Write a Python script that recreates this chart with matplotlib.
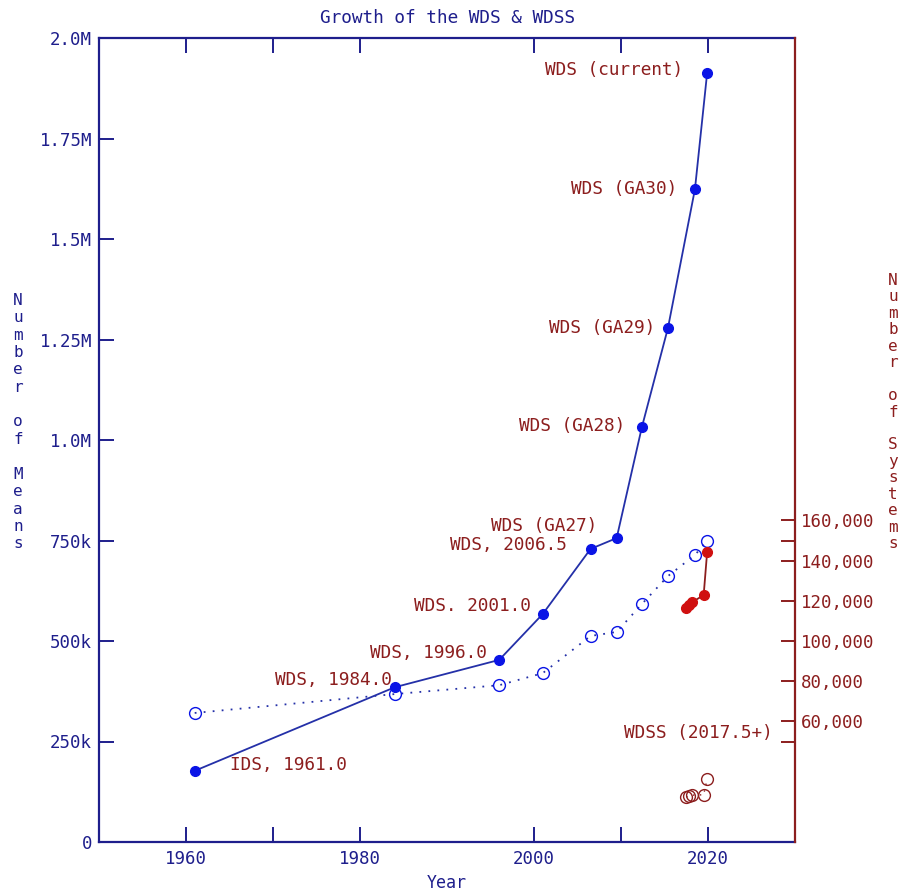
import matplotlib
matplotlib.use("Agg")
import matplotlib.pyplot as plt
from matplotlib.ticker import FixedLocator, FixedFormatter

# ---------------- data ----------------
wds_years = [1961.0, 1984.0, 1996.0, 2001.0, 2006.5, 2009.5, 2012.4, 2015.4, 2018.5, 2019.9]
wds_means = [177000, 385000, 453000, 567000, 729000, 756000, 1032000, 1279000, 1624000, 1913000]
wds_systems = [64200, 73600, 78000, 84000, 102500, 104500, 118400, 132300, 142800, 149800]
wds_labels = ["IDS, 1961.0", "WDS, 1984.0", "WDS, 1996.0", "WDS. 2001.0", "WDS, 2006.5",
              "WDS (GA27)", "WDS (GA28)", "WDS (GA29)", "WDS (GA30)", "WDS (current)"]

wdss_years = [2017.5, 2017.8, 2018.2, 2019.5, 2019.9]
wdss_means = [583000, 590000, 597000, 614000, 721000]
wdss_systems = [22400, 22800, 23300, 23500, 31300]
wdss_label = "WDSS (2017.5+)"

x_ticks = [1960, 1970, 1980, 2000, 2010, 2020]
x_ticklabels = ["1960", "", "1980", "2000", "", "2020"]
left_ticks = [0, 250000, 500000, 750000, 1000000, 1250000, 1500000, 1750000, 2000000]
left_ticklabels = ["0", "250k", "500k", "750k", "1.0M", "1.25M", "1.5M", "1.75M", "2.0M"]
right_ticks = [50000, 60000, 80000, 100000, 120000, 140000, 150000, 160000]
right_ticklabels = ["", "60,000", "80,000", "100,000", "120,000", "140,000", "", "160,000"]

# label offsets in pixels (dx, dy) and alignment
label_offsets_px = [(35, 6, "left"), (-3, 7, "right"), (-12, 7, "right"), (-12, 8, "right"),
                    (-24, 4, "right"), (-19, 12, "right"), (-17, 1, "right"), (-13, 0, "right"),
                    (-18, 0, "right"), (-24, 3, "right")]

# ---------------- style ----------------
NAVY = "#1e1e8c"
BLUE = "#0a14e6"
BLUE_LINE = "#2430a8"
DARKRED = "#8c1e1e"
RED = "#d01010"
FONT = "DejaVu Sans Mono"
PX = 0.72  # points per pixel at dpi=100

plt.rcParams["font.family"] = FONT

W, H = 903, 894
fig = plt.figure(figsize=(W / 100, H / 100), dpi=100)
L, R, T, B = 99, 795, 38, 842
ax = fig.add_axes([L / W, 1 - B / H, (R - L) / W, (B - T) / H])
ax2 = ax.twinx()

ax.set_xlim(1950, 2030)
ax.set_ylim(0, 2000000)
ax2.set_ylim(0, 400000)

# series
ax2.plot(wds_years, wds_systems, linestyle=(0, (1, 4)), color=BLUE_LINE, lw=1.3,
         marker="o", markersize=8.5, markerfacecolor="none", markeredgecolor=BLUE,
         markeredgewidth=1.0, zorder=3)
ax2.plot(wdss_years, wdss_systems, linestyle=(0, (1, 4)), color=DARKRED, lw=1.0,
         marker="o", markersize=8.5, markerfacecolor="none", markeredgecolor=DARKRED,
         markeredgewidth=1.0, zorder=3)
ax2.plot(wds_years, wds_means, transform=ax.transData, color=BLUE_LINE, lw=1.3,
         marker="o", markersize=7, markerfacecolor=BLUE, markeredgecolor=BLUE, zorder=4)
ax2.plot(wdss_years, wdss_means, transform=ax.transData, color=DARKRED, lw=1.3,
         marker="o", markersize=7, markerfacecolor=RED, markeredgecolor=RED, zorder=4)

# annotations
for xv, yv, lab, (dx, dy, ha) in zip(wds_years, wds_means, wds_labels, label_offsets_px):
    ax2.annotate(lab, xy=(xv, yv), xycoords=ax.transData, xytext=(dx * PX, dy * PX),
                 textcoords="offset points", ha=ha, va="center", color=DARKRED,
                 fontsize=12.8, zorder=5)
ax2.annotate(wdss_label, xy=(wdss_years[-1], wdss_systems[-1]), xytext=(66 * PX, 46 * PX),
             textcoords="offset points", ha="right", va="center", color=DARKRED,
             fontsize=12.8, zorder=5)

# spines
for s in ["left", "top", "bottom"]:
    ax.spines[s].set_color(NAVY)
    ax.spines[s].set_linewidth(1.6)
    ax2.spines[s].set_visible(False)
ax.spines["right"].set_visible(False)
ax2.spines["right"].set_color(DARKRED)
ax2.spines["right"].set_linewidth(1.6)

# x ticks
ax.xaxis.set_major_locator(FixedLocator(x_ticks))
ax.xaxis.set_major_formatter(FixedFormatter(x_ticklabels))
ax.tick_params(axis="x", which="both", direction="in", length=11, width=1.4, color=NAVY,
               labelcolor=NAVY, labelsize=12.5, pad=6, top=True, bottom=True)

# left y ticks
ax.yaxis.set_major_locator(FixedLocator(left_ticks))
ax.yaxis.set_major_formatter(FixedFormatter(left_ticklabels))
ax.tick_params(axis="y", direction="in", length=11, width=1.4, color=NAVY,
               labelcolor=NAVY, labelsize=12.5, pad=5, right=False)

# right y ticks
ax2.yaxis.set_major_locator(FixedLocator(right_ticks))
ax2.yaxis.set_major_formatter(FixedFormatter(right_ticklabels))
ax2.tick_params(axis="y", direction="in", length=10, width=1.4, colors=DARKRED,
                labelsize=12.5, pad=4)

# title and labels
ax.set_title("Growth of the WDS & WDSS", color=NAVY, fontsize=12.8, pad=11)
ax.set_xlabel("Year", color=NAVY, fontsize=12, labelpad=4)

fig.text(18 / W, 1 - 422 / H, "\n".join("Number of Means"), ha="center", va="center",
         color=NAVY, fontsize=11.5, linespacing=1.2)
fig.text(893 / W, 1 - 412 / H, "\n".join("Number of Systems"), ha="center", va="center",
         color=DARKRED, fontsize=11.5, linespacing=1.12)

fig.savefig("out.png", dpi=100)
